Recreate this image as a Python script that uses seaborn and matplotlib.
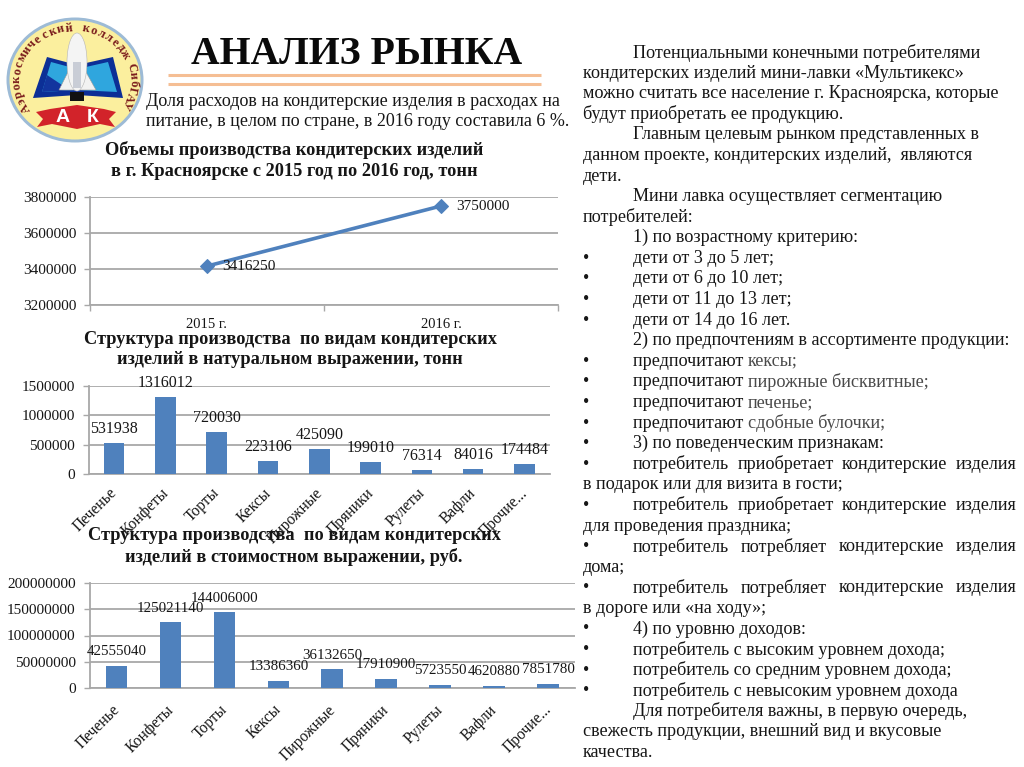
import numpy as np
import pandas as pd
import matplotlib
matplotlib.use("Agg")
import matplotlib.pyplot as plt
from matplotlib.patches import Ellipse, Polygon, Rectangle
from matplotlib.ticker import FixedLocator
from matplotlib.transforms import ScaledTranslation
import seaborn as sns

years = ['2015 г.', '2016 г.']
volume = [3416250, 3750000]
volume_ticks = [3200000, 3400000, 3600000, 3800000]

kinds = ['Печенье', 'Конфеты', 'Торты', 'Кексы', 'Пирожные', 'Пряники', 'Рулеты', 'Вафли', 'Прочие...']
tons = [531938, 1316012, 720030, 223106, 425090, 199010, 76314, 84016, 174484]
tons_ticks = [0, 500000, 1000000, 1500000]
rubles = [42555040, 125021140, 144006000, 13386360, 36132650, 17910900, 5723550, 4620880, 7851780]
rubles_ticks = [0, 50000000, 100000000, 150000000, 200000000]

# right column: '*' = bullet, '>' = tab, '=' = justified, '|' = greyer text from here on
right_text = [
    '>Потенциальными конечными потребителями',
    'кондитерских изделий мини-лавки «Мультикекс»',
    'можно считать все население г. Красноярска, которые',
    'будут приобретать ее продукцию.',
    '>Главным целевым рынком представленных в',
    'данном проекте, кондитерских изделий,  являются',
    'дети.',
    '>Мини лавка осуществляет сегментацию',
    'потребителей:',
    '>1) по возрастному критерию:',
    '*>дети от 3 до 5 лет;',
    '*>дети от 6 до 10 лет;',
    '*>дети от 11 до 13 лет;',
    '*>дети от 14 до 16 лет.',
    '>2) по предпочтениям в ассортименте продукции:',
    '*>предпочитают |кексы;',
    '*>предпочитают |пирожные бисквитные;',
    '*>предпочитают |печенье;',
    '*>предпочитают |сдобные булочки;',
    '*>3) по поведенческим признакам:',
    '*>=потребитель приобретает кондитерские изделия',
    'в подарок или для визита в гости;',
    '*>=потребитель приобретает кондитерские изделия',
    'для проведения праздника;',
    '*>=потребитель потребляет кондитерские изделия',
    'дома;',
    '*>=потребитель потребляет кондитерские изделия',
    'в дороге или «на ходу»;',
    '*>4) по уровню доходов:',
    '*>потребитель с высоким уровнем дохода;',
    '*>потребитель со средним уровнем дохода;',
    '*>потребитель с невысоким уровнем дохода',
    '>Для потребителя важны, в первую очередь,',
    'свежесть продукции, внешний вид и вкусовые',
    'качества.',
]

sns.set_theme(style='white')
plt.rcParams['font.family'] = ['Liberation Serif', 'DejaVu Serif']

BLUE = '#4F81BD'
GRID = '#A8A8A8'
INK = '#161616'
W, H = 1024, 767

fig = plt.figure(figsize=(W / 100, H / 100), dpi=100, facecolor='white')


def px_axes(left, top, right, bottom):
    return fig.add_axes([left / W, 1 - bottom / H, (right - left) / W, (bottom - top) / H])


def style_axes(ax, ticks, tick_size):
    ax.set_facecolor('none')
    ax.set_xlabel('')
    ax.set_ylabel('')
    ax.set_yticks(ticks)
    ax.set_ylim(ticks[0], ticks[-1])
    ax.set_yticklabels([str(t) for t in ticks], fontsize=tick_size, color=INK)
    ax.yaxis.grid(True, color=GRID, lw=1.3)
    ax.set_axisbelow(True)
    for side in ['top', 'right']:
        ax.spines[side].set_visible(False)
    for side in ['left', 'bottom']:
        ax.spines[side].set_color(GRID)
        ax.spines[side].set_linewidth(1.3)
        ax.spines[side].set_zorder(0.6)
    ax.tick_params(axis='y', length=4, width=1, color=GRID, pad=6, left=True)


def bar_chart(ax, values, ticks, tick_size, label_size, pad):
    sns.barplot(x=kinds, y=values, color=BLUE, saturation=1, width=0.4, linewidth=0, ax=ax)
    ax.set_xlim(-0.5, len(kinds) - 0.5)
    style_axes(ax, ticks, tick_size)
    ax.set_xticks(range(len(kinds)))
    ax.set_xticklabels(kinds, rotation=45, ha='right', rotation_mode='anchor', fontsize=11.2, color=INK)
    ax.tick_params(axis='x', length=0, pad=pad)
    shift = ScaledTranslation(-5 / 100, 0, fig.dpi_scale_trans)
    for lab in ax.get_xticklabels():
        lab.set_transform(lab.get_transform() + shift)
    for i, v in enumerate(values):
        ax.annotate(str(v), (i, v), xytext=(0, 14 * 0.72), textcoords='offset points',
                    ha='center', va='center', fontsize=label_size, color=INK, annotation_clip=False)


# line chart
ax1 = px_axes(90, 197, 558, 305)
sns.lineplot(x=years, y=volume, color=BLUE, lw=2.6, marker='D', markersize=7,
             markeredgecolor=BLUE, ax=ax1)
ax1.set_xlim(-0.5, 1.5)
style_axes(ax1, volume_ticks, 11)
ax1.set_xticks([0, 1])
ax1.set_xticklabels(years, fontsize=10.5, color=INK)
ax1.tick_params(axis='x', which='major', length=0, pad=9)
ax1.xaxis.set_minor_locator(FixedLocator([-0.5, 0.5, 1.5]))
ax1.tick_params(axis='x', which='minor', bottom=True, length=4, width=1, color=GRID)
for i, v in enumerate(volume):
    ax1.annotate(str(v), (i, v), xytext=(15 * 0.72, 0), textcoords='offset points',
                 ha='left', va='center', fontsize=11, color=INK)

# bars
ax2 = px_axes(88.5, 386, 550, 474)
bar_chart(ax2, tons, tons_ticks, 11, 11.5, 8)
ax3 = px_axes(89.5, 583, 575, 688)
bar_chart(ax3, rubles, rubles_ticks, 11, 10.8, 10)

# everything else is placed on a pixel overlay
over = fig.add_axes([0, 0, 1, 1], zorder=5)
over.set_xlim(0, W)
over.set_ylim(H, 0)
over.axis('off')
over.patch.set_visible(False)

# logo
over.add_patch(Ellipse((75, 80), 137, 125, fc='#9DBBD6', ec='none'))
over.add_patch(Ellipse((75, 80), 131, 119, fc='#FBEF9E', ec='none'))
over.add_patch(Polygon([(33, 98), (47, 57), (77, 65), (113, 57), (123, 98), (77, 95)], fc='#0C2F96', ec='none'))
over.add_patch(Polygon([(42, 92), (51, 62), (77, 69), (108, 62), (117, 92), (77, 90)], fc='#2FA6DE', ec='none'))
over.add_patch(Polygon([(42, 92), (47, 75), (62, 85), (77, 90)], fc='#12359E', ec='none'))
over.add_patch(Rectangle((70, 92), 14, 9, fc='#111111', ec='none'))
over.add_patch(Polygon([(59, 90), (68, 72), (86, 72), (96, 90)], fc='#F2F2F2', ec='#999999', lw=0.4))
over.add_patch(Ellipse((77, 62), 20, 58, fc='#F4F4F4', ec='#B5B5B5', lw=0.4))
over.add_patch(Rectangle((73, 62), 8, 26, fc='#C9CDD6', ec='none'))
over.add_patch(Polygon([(36, 112), (50, 109), (77, 105), (104, 109), (116, 112), (109, 119), (115, 127),
                        (100, 124), (77, 129), (52, 124), (37, 127), (43, 119)], fc='#D2232A', ec='none'))
for x, ch in [(63, 'А'), (93, 'К')]:
    over.text(x, 117, ch, ha='center', va='center', fontsize=14, fontweight='bold', color='white',
              family=['Liberation Sans'])
arc_text = 'Аэрокосмический колледж СибГАУ'
for ch, deg in zip(arc_text, np.linspace(212, -28, len(arc_text))):
    t = np.radians(deg)
    over.text(75 + 58 * np.cos(t), 80 - 52 * np.sin(t), ch, rotation=deg - 90, ha='center', va='center',
              rotation_mode='anchor', fontsize=9, fontweight='bold', color='#7A1C1C')

# heading
over.text(356.5, 55, 'АНАЛИЗ РЫНКА', ha='center', va='center', fontsize=28.6, fontweight='bold', color='#0A0A0A')
for y in [75, 84]:
    over.plot([168, 541], [y, y], color='#F5BE94', lw=2.2, solid_capstyle='butt')
over.text(146, 101, 'Доля расходов на кондитерские изделия в расходах на', va='center', fontsize=13.0, color=INK)
over.text(146, 121, 'питание, в целом по стране, в 2016 году составила 6 %.', va='center', fontsize=13.0, color=INK)

titles = [
    (294, 150, 'Объемы производства кондитерских изделий'),
    (294, 172, 'в г. Красноярске с 2015 год по 2016 год, тонн'),
    (290, 339, 'Структура производства  по видам кондитерских'),
    (290, 360, 'изделий в натуральном выражении, тонн'),
    (295, 536, 'Структура производства  по видам кондитерских'),
    (294, 557, 'изделий в стоимостном выражении, руб.'),
]
for x, y, s in titles:
    over.text(x, y, s, ha='center', va='center', fontsize=13.2, fontweight='bold', color=INK)

# right column
renderer = fig.canvas.get_renderer()
BODY = 13.1


def put(x, y, s, color=INK):
    return over.text(x, y, s, va='center', fontsize=BODY, color=color)


for i, line in enumerate(right_text):
    y = 52.5 + i * 700 / 34
    x = 583
    if line.startswith('*'):
        put(583, y, '•')
        line = line[1:]
    if line.startswith('>'):
        x = 633
        line = line[1:]
    if line.startswith('='):
        words = line[1:].split()
        widths = [put(0, y, w).get_window_extent(renderer).width for w in words]
        for t in over.texts[-len(words):]:
            t.remove()
        gap = (1016 - x - sum(widths)) / (len(words) - 1)
        for w, wd in zip(words, widths):
            put(x, y, w)
            x += wd + gap
    elif '|' in line:
        first, rest = line.split('|')
        x += put(x, y, first).get_window_extent(renderer).width
        put(x, y, rest, color='#4A4A4A')
    else:
        put(x, y, line)

fig.savefig('out.png', dpi=100, facecolor='white')
